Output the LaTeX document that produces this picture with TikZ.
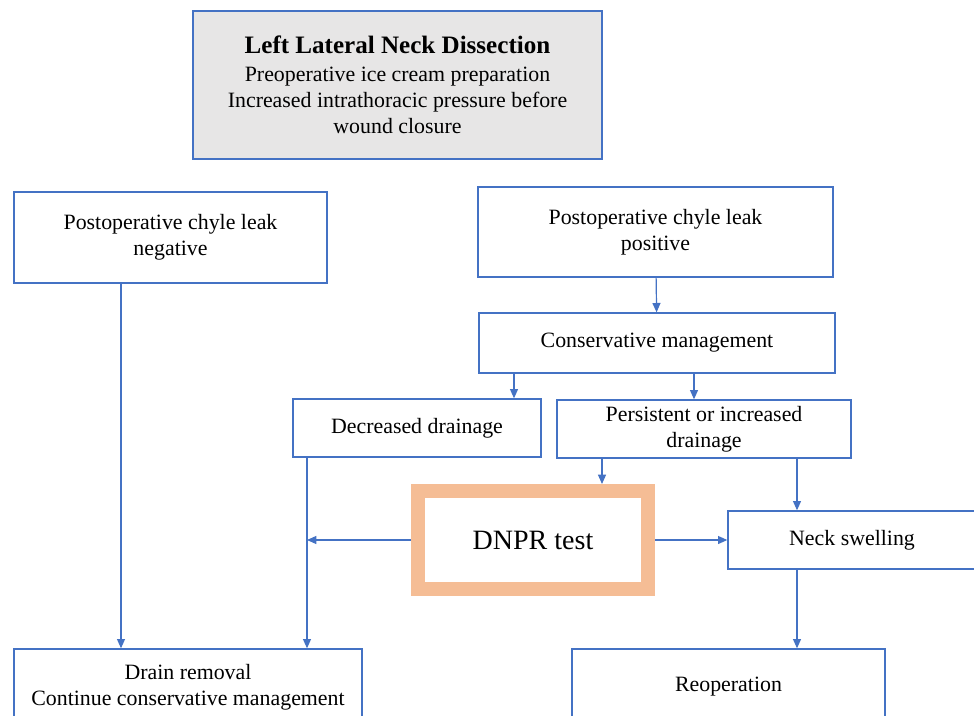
\documentclass[tikz,border=0pt]{standalone}
\usepackage{fontspec}
\setmainfont{Liberation Serif}
\usetikzlibrary{arrows.meta,positioning}
\definecolor{flline}{HTML}{4472C4}
\definecolor{flgray}{HTML}{E7E6E6}
\definecolor{fltest}{HTML}{F5BD95}
\tikzset{
  stepbox/.style={draw=flline,line width=1pt,fill=white,align=center,inner sep=2pt,
              font=\fontsize{16.4}{19.5}\selectfont,text=black},
  headbox/.style={stepbox,fill=flgray},
  testbox/.style={draw=fltest,line width=10.5pt,fill=white,inner sep=2pt,
              font=\fontsize{21}{24}\selectfont,text=black},
  flow/.style={-{Triangle[length=7pt,width=6pt]},draw=flline,line width=0.9pt},
}

\begin{document}
\begin{tikzpicture}[x=0.75pt,y=-0.75pt]
  \clip (0,0) rectangle (974,716);
  \node[headbox,minimum width=306.75pt,minimum height=111pt] (head) at (397.5,85)
    {{\fontsize{18.8}{21}\selectfont\bfseries Left Lateral Neck Dissection}\\[1.5pt]
     Preoperative ice cream preparation\\
     Increased intrathoracic pressure before\\
     wound closure};
  \node[stepbox,minimum width=234.75pt,minimum height=68.25pt] (neg) at (170.5,237.5)
    {Postoperative chyle leak\\negative};
  \node[stepbox,minimum width=266.25pt,minimum height=67.5pt] (pos) at (655.5,232)
    {Postoperative chyle leak\\positive};
  \node[stepbox,minimum width=267pt,minimum height=45pt] (cons) at (657,343)
    {Conservative management};
  \node[stepbox,minimum width=186pt,minimum height=43.5pt] (dec) at (417,428)
    {Decreased drainage};
  \node[stepbox,minimum width=220.5pt,minimum height=43.5pt] (pers) at (704,429)
    {Persistent or increased\\drainage};
  \node[testbox,minimum width=172.5pt,minimum height=73.5pt] (dnpr) at (533,540)
    {DNPR test};
  \node[stepbox,minimum width=186pt,minimum height=43.5pt] (neck) at (852,540)
    {Neck swelling};
  \node[stepbox,minimum width=261pt,minimum height=57pt] (drain) at (188,687)
    {Drain removal\\Continue conservative management};
  \node[stepbox,minimum width=234.75pt,minimum height=57pt] (reop) at (728.5,687)
    {Reoperation};

  % connectors
  \draw[flow] (pos) -- (cons);
  \draw[flow] ([xshift=-107.25pt]cons.south) -- ([xshift=-107.25pt]cons.south |- dec.north);
  \draw[flow] ([xshift=27.75pt]cons.south) -- ([xshift=27.75pt]cons.south |- pers.north);
  \draw[flow] ([xshift=-76.5pt]pers.south) -- ([xshift=-76.5pt]pers.south |- dnpr.north);
  \draw[flow] ([xshift=69.75pt]pers.south) -- ([xshift=69.75pt]pers.south |- neck.north);
  \coordinate (decdrop) at ([xshift=-82.5pt]dec.south);
  \draw[flow] (decdrop) -- (decdrop |- drain.north);
  \draw[flow] (dnpr.west) -- (dnpr.west -| decdrop);
  \draw[flow] (dnpr.east) -- (neck.west);
  \draw[flow] ([xshift=-37.125pt]neg.south) -- ([xshift=-37.125pt]neg.south |- drain.north);
  \draw[flow] ([xshift=-41.25pt]neck.south) -- ([xshift=-41.25pt]neck.south |- reop.north);
\end{tikzpicture}
\end{document}
